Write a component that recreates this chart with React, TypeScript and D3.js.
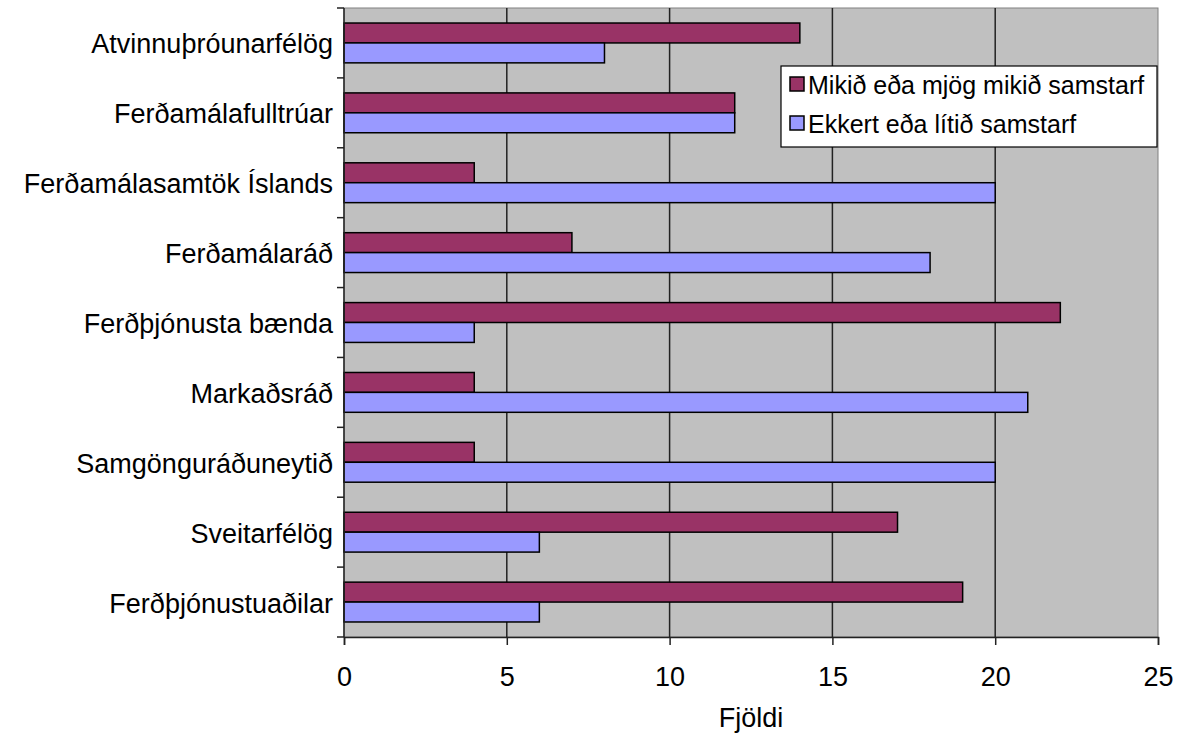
import { useEffect, useRef } from "react";
import * as d3 from "d3";

const categories = [
  "Atvinnuþróunarfélög",
  "Ferðamálafulltrúar",
  "Ferðamálasamtök Íslands",
  "Ferðamálaráð",
  "Ferðþjónusta bænda",
  "Markaðsráð",
  "Samgönguráðuneytið",
  "Sveitarfélög",
  "Ferðþjónustuaðilar",
];
const seriesNames = ["Mikið eða mjög mikið samstarf", "Ekkert eða lítið samstarf"];
const mikid = [14, 12, 4, 7, 22, 4, 4, 17, 19];
const ekkert = [8, 12, 20, 18, 4, 21, 20, 6, 6];
const xTicks = [0, 5, 10, 15, 20, 25];
const colors = ["#993366", "#9999FF"];

const App = () => {
  const ref = useRef<SVGSVGElement>(null);

  useEffect(() => {
    document.body.style.margin = "0";
    const svg = d3.select(ref.current);
    svg.selectAll("*").remove();

    const width = 1194;
    const height = 733;
    const left = 344;
    const right = 1158;
    const top = 8;
    const bottom = 637;
    const fs = 27;
    const font = "'Liberation Sans', Arial, sans-serif";

    svg.attr("width", width).attr("height", height).style("font-family", font).style("display", "block");

    const x = d3.scaleLinear().domain([0, 25]).range([left, right]);
    const y = d3.scaleBand().domain(categories).range([top, bottom]).paddingInner(0.43).paddingOuter(0.215);
    const sub = d3.scaleBand().domain(seriesNames).range([0, y.bandwidth()]);

    // plot background
    svg.append("rect")
      .attr("x", left).attr("y", top)
      .attr("width", right - left).attr("height", bottom - top)
      .attr("fill", "#C0C0C0")
      .attr("stroke", "#808080");

    // gridlines
    svg.append("g")
      .selectAll("line")
      .data(xTicks.slice(1, -1))
      .join("line")
      .attr("x1", (d) => x(d)).attr("x2", (d) => x(d))
      .attr("y1", top).attr("y2", bottom)
      .attr("stroke", "#222").attr("stroke-width", 1.5);

    // bars
    const rows = categories.map((c, i) => ({ c, vals: [mikid[i], ekkert[i]] }));
    const g = svg.append("g")
      .selectAll("g")
      .data(rows)
      .join("g")
      .attr("transform", (d) => `translate(0,${y(d.c)})`);
    g.selectAll("rect")
      .data((d) => d.vals.map((v, j) => ({ v, s: seriesNames[j], j })))
      .join("rect")
      .attr("x", x(0))
      .attr("y", (d) => sub(d.s)!)
      .attr("width", (d) => x(d.v) - x(0))
      .attr("height", sub.bandwidth())
      .attr("fill", (d) => colors[d.j])
      .attr("stroke", "#000")
      .attr("stroke-width", 1.5);

    // x axis
    const xAxis = svg.append("g")
      .attr("transform", `translate(0,${bottom})`)
      .call(d3.axisBottom(x).tickValues(xTicks).tickSize(8).tickPadding(22));
    xAxis.select(".domain").attr("stroke", "#222").attr("stroke-width", 1.5);
    xAxis.selectAll(".tick line").attr("stroke", "#222").attr("stroke-width", 1.5);
    xAxis.selectAll("text").attr("font-size", fs).attr("fill", "#000").style("font-family", font);

    // y axis: tick marks at category boundaries
    svg.append("line")
      .attr("x1", left).attr("x2", left).attr("y1", top).attr("y2", bottom)
      .attr("stroke", "#222").attr("stroke-width", 1.5);
    const bounds = categories.map((c) => y(c)! - (y.step() - y.bandwidth()) / 2).concat([bottom]);
    svg.append("g")
      .selectAll("line")
      .data(bounds)
      .join("line")
      .attr("x1", left - 7).attr("x2", left)
      .attr("y1", (d) => d).attr("y2", (d) => d)
      .attr("stroke", "#222").attr("stroke-width", 1.5);
    svg.append("g")
      .selectAll("text")
      .data(categories)
      .join("text")
      .attr("x", left - 11)
      .attr("y", (d) => y(d)! + y.bandwidth() / 2 + 1)
      .attr("dy", "0.35em")
      .attr("text-anchor", "end")
      .attr("font-size", fs)
      .text((d) => d);

    // axis title
    svg.append("text")
      .attr("x", (left + right) / 2)
      .attr("y", 718)
      .attr("dy", "0.35em")
      .attr("text-anchor", "middle")
      .attr("font-size", fs)
      .text("Fjöldi");

    // legend
    const lg = svg.append("g").attr("transform", "translate(781,66)");
    lg.append("rect").attr("width", 376).attr("height", 81).attr("fill", "#fff").attr("stroke", "#000").attr("stroke-width", 1.2);
    seriesNames.forEach((s, i) => {
      lg.append("rect")
        .attr("x", 9).attr("y", 11 + i * 39)
        .attr("width", 14).attr("height", 14)
        .attr("fill", colors[i]).attr("stroke", "#000").attr("stroke-width", 1.5);
      lg.append("text")
        .attr("x", 27).attr("y", 19 + i * 39)
        .attr("dy", "0.35em")
        .attr("font-size", 25)
        .text(s);
    });
  }, []);

  return <svg ref={ref}></svg>;
};

export default App;
